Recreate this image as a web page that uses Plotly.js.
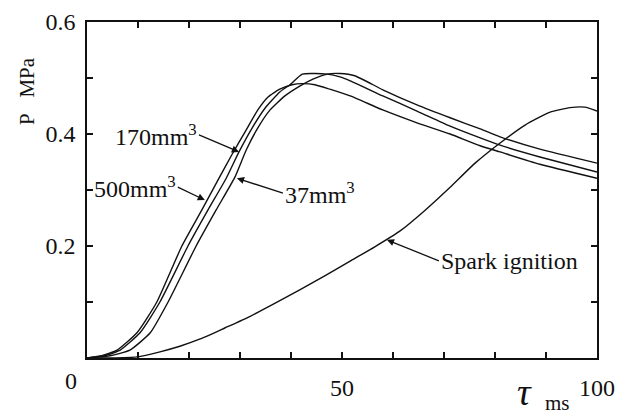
<!DOCTYPE html>
<html><head><meta charset="utf-8">
<script src="https://cdn.plot.ly/plotly-3.0.1.min.js"></script>
<style>html,body{margin:0;padding:0;background:#fff}#chart{width:633px;height:415px}</style>
</head><body><div id="chart"></div>
<script>
// tau (ms) and pressure P (MPa)
const t500 = [0, 2.9, 5.9, 9.8, 13.7, 18.6, 22.5, 25.7, 28.4, 31.2, 33.5, 35.5, 37.8, 40.2, 42.2, 44.7, 47.6, 51.6, 58.0, 64.7, 71.2, 77.1, 81.0, 88.8, 100];
const p500 = [0, 0.004, 0.014, 0.045, 0.100, 0.200, 0.264, 0.318, 0.363, 0.407, 0.443, 0.466, 0.480, 0.488, 0.490, 0.488, 0.480, 0.468, 0.443, 0.420, 0.400, 0.379, 0.368, 0.346, 0.321];

const t170 = [0, 3.5, 6.5, 10.4, 14.3, 19.8, 23.7, 27.3, 29.8, 32.4, 34.9, 37.8, 39.8, 42.2, 44.7, 47.1, 49.6, 51.6, 58.0, 64.7, 71.2, 77.1, 81.0, 88.8, 100];
const p170 = [0, 0.004, 0.014, 0.045, 0.100, 0.200, 0.264, 0.321, 0.368, 0.411, 0.446, 0.475, 0.488, 0.507, 0.508, 0.507, 0.502, 0.495, 0.468, 0.441, 0.414, 0.393, 0.380, 0.359, 0.332];

const t37 = [0, 4.5, 8.4, 12.4, 15.9, 21.4, 25.3, 29.0, 31.2, 33.5, 35.9, 38.8, 41.8, 44.3, 47.1, 49.6, 52.5, 58.0, 64.7, 71.2, 77.1, 81.0, 88.8, 100];
const p37 = [0, 0.004, 0.014, 0.045, 0.100, 0.200, 0.264, 0.323, 0.371, 0.411, 0.443, 0.468, 0.486, 0.498, 0.507, 0.508, 0.504, 0.479, 0.452, 0.429, 0.409, 0.395, 0.373, 0.348];

const tSpark = [0, 4.5, 9.8, 14.3, 18.2, 22.2, 27.1, 31.9, 36.9, 41.8, 46.7, 51.6, 56.5, 61.4, 66.3, 71.2, 76.1, 81.0, 85.9, 90.8, 94.7, 97.6, 100];
const pSpark = [0, 0, 0.002, 0.011, 0.021, 0.034, 0.054, 0.074, 0.098, 0.122, 0.147, 0.173, 0.199, 0.227, 0.264, 0.305, 0.348, 0.384, 0.416, 0.439, 0.447, 0.448, 0.441];

const xTickVals = [50, 100];
const xTickText = ['50', '100'];
const yTickVals = [0.2, 0.4, 0.6];
const yTickText = ['0.2', '0.4', '0.6'];

const ink = '#111';
const FONT = 'Liberation Serif, Times New Roman, serif';

function curve(x, y) {
  return {x: x, y: y, type: 'scatter', mode: 'lines', hoverinfo: 'skip',
          line: {color: ink, width: 1.4, shape: 'spline', smoothing: 0.5}};
}

const data = [curve(t500, p500), curve(t170, p170), curve(t37, p37), curve(tSpark, pSpark)];

const axisCommon = {
  ticks: 'inside', ticklen: 6, tickwidth: 1.3, tickcolor: ink,
  showline: true, linecolor: ink, linewidth: 1.6, mirror: 'ticks',
  showgrid: false, zeroline: false, tickfont: {family: FONT, size: 24, color: ink}
};

const lbl = {family: FONT, size: 24, color: ink};
const arrow = {showarrow: true, arrowhead: 2, arrowsize: 1.1, arrowwidth: 1.3, arrowcolor: ink, xref: 'x', yref: 'y', yanchor: 'middle', font: lbl};

const layout = {
  width: 633, height: 415,
  margin: {l: 87, r: 36, t: 22, b: 57},
  paper_bgcolor: '#fff', plot_bgcolor: '#fff',
  showlegend: false,
  font: {family: FONT, color: ink, size: 24},
  xaxis: Object.assign({}, axisCommon, {
    range: [0, 100], tickmode: 'array', tickvals: xTickVals, ticktext: xTickText,
    ticklabelstandoff: 8,
    minor: {tickmode: 'linear', tick0: 0, dtick: 10, ticks: 'inside', ticklen: 6, tickwidth: 1.3, tickcolor: ink, showgrid: false}
  }),
  yaxis: Object.assign({}, axisCommon, {
    range: [0, 0.6], tickmode: 'array', tickvals: yTickVals, ticktext: yTickText,
    ticklabelstandoff: 5,
    minor: {tickmode: 'linear', tick0: 0, dtick: 0.1, ticks: 'inside', ticklen: 6, tickwidth: 1.3, tickcolor: ink, showgrid: false}
  }),
  annotations: [
    Object.assign({}, arrow, {x: 29.8, y: 0.368, ax: -40, ay: -17, xanchor: 'right', text: '170mm<sup>3</sup>'}),
    Object.assign({}, arrow, {x: 23.1, y: 0.282, ax: -27, ay: -13, xanchor: 'right', text: '500mm<sup>3</sup>'}),
    Object.assign({}, arrow, {x: 29.4, y: 0.321, ax: 46, ay: 15, xanchor: 'left', text: '37mm<sup>3</sup>'}),
    Object.assign({}, arrow, {x: 58.8, y: 0.211, ax: 52, ay: 21, xanchor: 'left', text: 'Spark ignition'}),
    // axis texts
    {x: -0.0304, y: -0.067, xref: 'paper', yref: 'paper', xanchor: 'center', yanchor: 'middle', text: '0', showarrow: false, font: lbl},
    {x: 0.858, y: -0.1696, xref: 'paper', yref: 'paper', xanchor: 'center', yanchor: 'bottom', text: '<i>τ</i>', showarrow: false, font: {family: FONT, size: 38, color: ink}},
    {x: 0.9235, y: -0.135, xref: 'paper', yref: 'paper', xanchor: 'center', yanchor: 'middle', text: 'ms', showarrow: false, font: {family: FONT, size: 21, color: ink}},
    {x: -0.1176, y: 0.7946, xref: 'paper', yref: 'paper', xanchor: 'center', yanchor: 'middle', textangle: -90, text: 'P&nbsp;&nbsp;&nbsp;MPa', showarrow: false, font: {family: FONT, size: 21, color: ink}}
  ]
};

Plotly.newPlot('chart', data, layout, {staticPlot: true, displayModeBar: false});
</script>
</body></html>
